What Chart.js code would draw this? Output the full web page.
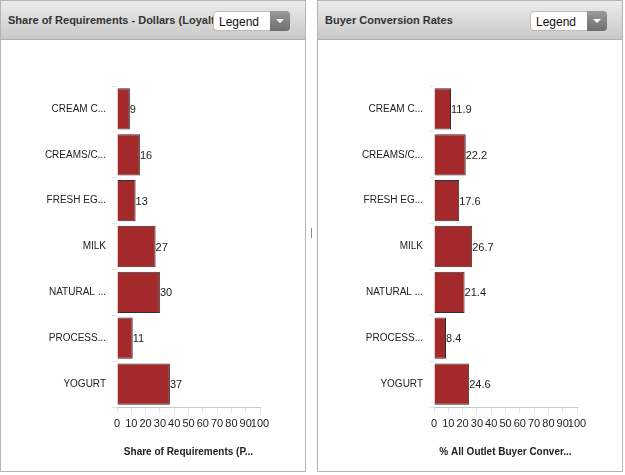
<!DOCTYPE html>
<html>
<head>
<meta charset="utf-8">
<script src="https://cdn.jsdelivr.net/npm/chart.js@4.4.1/dist/chart.umd.min.js"></script>
<style>
  body { margin: 0; background: #fff; font-family: "Liberation Sans", Arial, sans-serif; }
  .panel { position: absolute; top: 0; width: 304px; height: 470px; border: 1px solid #b4b4b4; background: #fff; overflow: hidden; }
  .head { position: absolute; left: 0; top: 0; width: 100%; height: 38px; background: linear-gradient(#ebebeb, #c9c9c9); border-bottom: 1px solid #b0b0b0; }
  .ttl { position: absolute; left: 7px; top: 13px; font-size: 11px; font-weight: bold; color: #333; white-space: nowrap; }
  .dd { position: absolute; top: 10px; width: 77px; height: 20px; background: #fff; border-radius: 4px; border: 1px solid #bbb; box-sizing: border-box; }
  .dd span { position: absolute; left: 5px; top: 3px; font-size: 12px; color: #111; }
  .dd i { position: absolute; right: -1px; top: -1px; width: 20px; height: 20px; border-radius: 0 4px 4px 0; background: linear-gradient(#9a9a9a, #6e6e6e); }
  .dd i:after { content: ""; position: absolute; left: 6px; top: 8px; border-left: 4px solid transparent; border-right: 4px solid transparent; border-top: 4px solid #fff; }
  canvas { position: absolute; left: 0; top: 39px; }
  .split { position: absolute; left: 311px; top: 228px; width: 1px; height: 10px; background: #888; }
</style>
</head>
<body>
<div class="panel" style="left:0">
  <div class="head"><div class="ttl">Share of Requirements - Dollars (Loyalty)</div><div class="dd" style="left:212px"><span>Legend</span><i></i></div></div>
  <canvas id="cvsShare" width="304" height="431"></canvas>
</div>
<div class="split"></div>
<div class="panel" style="left:317px">
  <div class="head"><div class="ttl">Buyer Conversion Rates</div><div class="dd" style="left:212px"><span>Legend</span><i></i></div></div>
  <canvas id="cvsBuyer" width="304" height="431"></canvas>
</div>
<script>
// categorias y valores
const categorias = ['CREAM C...', 'CREAMS/C...', 'FRESH EG...', 'MILK', 'NATURAL ...', 'PROCESS...', 'YOGURT'];
const shareReq = [9, 16, 13, 27, 30, 11, 37];
const buyerConv = ['11.9', '22.2', '17.6', '26.7', '21.4', '8.4', '24.6'];
const ticksX = [0, 10, 20, 30, 40, 50, 60, 70, 80, 90, 100];

const fuente = '"Liberation Sans", Arial, sans-serif';

// etiquetas de valor al final de cada barra
const etiquetas = {
  id: 'etiquetas',
  afterDatasetsDraw(chart) {
    const ctx = chart.ctx;
    const meta = chart.getDatasetMeta(0);
    const ds = chart.data.datasets[0];
    ctx.save();
    ctx.font = '11px ' + fuente;
    ctx.fillStyle = '#222';
    ctx.textBaseline = 'middle';
    meta.data.forEach((bar, i) => {
      ctx.fillText(ds.labels[i], bar.x, bar.y + 1);
    });
    ctx.restore();
  }
};

function grafico(id, valores, tituloX) {
  new Chart(document.getElementById(id), {
    type: 'bar',
    data: {
      labels: categorias,
      datasets: [{
        data: valores.map(Number),
        labels: valores.map(String),
        backgroundColor: '#a3292b',
        borderColor: '#2e2e2e',
        borderWidth: 1,
        barPercentage: 0.9,
        categoryPercentage: 1
      }]
    },
    options: {
      indexAxis: 'y',
      responsive: false,
      animation: false,
      layout: { padding: { top: 46, right: 45, bottom: 13, left: 0 } },
      plugins: { legend: { display: false }, tooltip: { enabled: false } },
      scales: {
        x: {
          min: 0, max: 100,
          afterBuildTicks: s => { s.ticks = ticksX.map(v => ({ value: v })); },
          afterFit: s => { s.height = 51; },
          grid: { drawOnChartArea: false, drawTicks: true, tickLength: 6, color: '#dde6ef' },
          border: { display: true, color: '#c8c8c8' },
          ticks: { font: { family: fuente, size: 11 }, color: '#222', padding: 4, maxRotation: 0, autoSkip: false },
          title: { display: true, text: tituloX, font: { family: fuente, size: 10, weight: 'bold' }, color: '#222', padding: { top: 9, bottom: 0 } }
        },
        y: {
          afterFit: s => { s.width = 116; },
          grid: { offset: true, drawOnChartArea: false, drawTicks: true, tickLength: 5, color: '#dde6ef' },
          border: { display: false },
          ticks: { font: { family: fuente, size: 10 }, color: '#222', padding: 6 }
        }
      }
    },
    plugins: [etiquetas]
  });
}

grafico('cvsShare', shareReq, 'Share of Requirements (P...');
grafico('cvsBuyer', buyerConv, '% All Outlet Buyer Conver...');
</script>
</body>
</html>
